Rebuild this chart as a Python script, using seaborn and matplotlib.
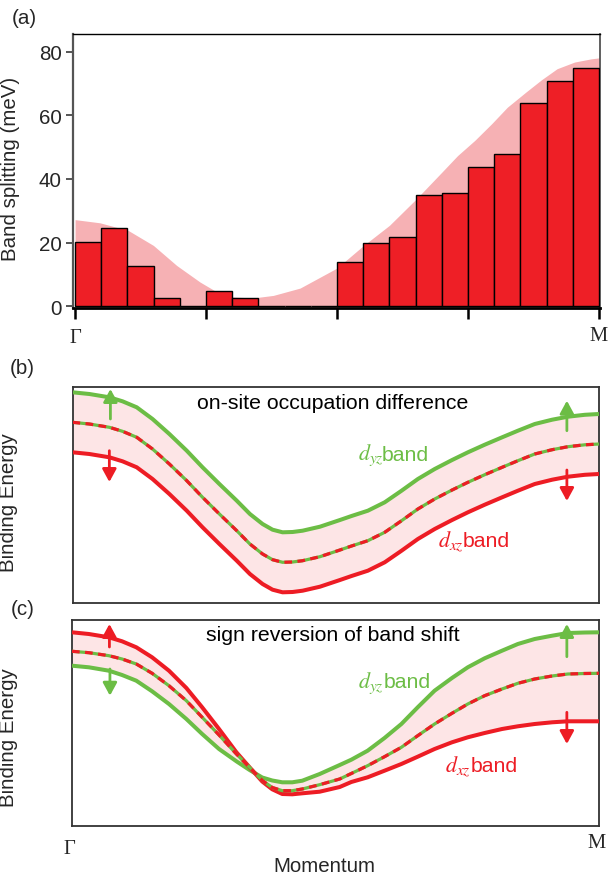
import numpy as np
import pandas as pd
import matplotlib
matplotlib.use("Agg")
import matplotlib.pyplot as plt
import matplotlib.transforms as mtransforms
import seaborn as sns

# ---------------- data ----------------
# (a) measured band splitting in 20 momentum bins between Gamma and M
bin_center = [i + 0.5 for i in range(20)]
splitting_meV = [20.2, 24.5, 12.6, 2.7, 0.0, 4.7, 2.5, 0.0, 0.0, 0.0,
                 13.8, 19.8, 21.8, 34.8, 35.5, 43.7, 47.8, 63.8, 70.8, 74.8]
# calculated envelope (momentum in bin units: 0 = Gamma, 20 = M)
envelope_pos = [0.0, 0.95, 2.03, 2.99, 3.88, 4.77, 5.41, 6.04, 6.8, 7.57, 8.59,
                10.0, 11.0, 12.0, 13.0, 14.0, 14.6, 15.26, 15.9, 16.5, 17.2,
                17.8, 18.4, 19.07, 19.7, 20.0]
envelope_meV = [27.2, 26.2, 23.8, 19.1, 12.8, 7.6, 4.5, 2.9, 2.6, 3.4, 5.7,
                12.0, 19.0, 25.4, 33.5, 42.1, 47.3, 52.1, 57.3, 62.5, 67.2,
                71.1, 74.6, 76.7, 77.7, 78.0]
xtick_bins = [0, 5, 10, 15, 20]
ytick_vals = [0, 20, 40, 60, 80]

# (b),(c) schematic bands; momentum 0 = Gamma, 1 = M; energy in arbitrary units
k = [0.000, 0.032, 0.070, 0.095, 0.122, 0.152, 0.184, 0.217, 0.247, 0.279,
     0.312, 0.337, 0.361, 0.380, 0.399, 0.418, 0.437, 0.470, 0.508, 0.530,
     0.561, 0.593, 0.625, 0.656, 0.688, 0.721, 0.751, 0.783, 0.816, 0.846,
     0.878, 0.911, 0.941, 0.973, 1.000]

dyz_b = [210.7, 209.0, 205.7, 201.7, 195.7, 184.0, 169.0, 152.3, 135.7, 119.0,
         102.3, 89.0, 79.0, 73.3, 70.7, 71.0, 72.3, 76.3, 83.0, 87.0,
         92.3, 100.7, 112.3, 124.0, 134.0, 143.0, 150.7, 158.3, 165.7, 172.3,
         179.0, 183.3, 186.3, 188.2, 189.0]
bare_b = [180.7, 179.0, 175.7, 171.7, 165.7, 154.0, 139.0, 122.3, 105.7, 89.0,
          72.3, 59.0, 49.0, 43.3, 40.7, 41.0, 42.3, 46.3, 53.0, 57.0,
          62.3, 70.7, 82.3, 94.0, 104.0, 113.0, 120.7, 128.3, 135.7, 142.3,
          149.0, 153.3, 156.3, 158.2, 159.0]
dxz_b = [150.7, 149.0, 145.7, 141.7, 135.7, 124.0, 109.0, 92.3, 75.7, 59.0,
         42.3, 29.0, 19.0, 13.3, 10.7, 11.0, 12.3, 16.3, 23.0, 27.0,
         32.3, 40.7, 52.3, 64.0, 74.0, 83.0, 90.7, 98.3, 105.7, 112.3,
         119.0, 123.3, 126.3, 128.2, 129.0]

dyz_c = [160.3, 158.7, 155.3, 151.0, 145.3, 134.7, 122.0, 107.0, 92.0, 77.0,
         64.7, 56.0, 48.5, 45.5, 43.7, 43.7, 45.3, 52.0, 61.0, 66.3,
         75.3, 88.0, 102.0, 118.7, 135.3, 148.0, 158.7, 167.7, 175.3, 182.0,
         187.0, 190.3, 193.0, 193.5, 193.7]
bare_c = [174.7, 173.3, 170.3, 167.0, 162.0, 152.7, 140.3, 125.3, 108.7, 91.0,
          72.0, 58.7, 45.5, 38.5, 35.3, 35.3, 37.0, 41.3, 47.0, 52.5,
          60.3, 69.3, 78.7, 90.3, 102.0, 112.7, 122.0, 130.3, 137.0, 142.7,
          147.0, 150.0, 152.0, 152.5, 152.7]
dxz_c = [193.7, 192.0, 188.7, 184.7, 178.7, 168.7, 155.3, 138.0, 118.7, 97.0,
         73.7, 58.7, 44.5, 36.7, 32.0, 31.7, 32.7, 34.3, 39.0, 44.0,
         48.7, 55.3, 62.0, 69.3, 77.0, 83.7, 88.7, 93.0, 97.0, 99.7,
         102.0, 103.7, 104.7, 104.7, 104.7]

# shift arrows: (momentum, start energy, end energy, band)
arrows_b = [(0.072, 184.0, 214.0, "dyz"), (0.070, 152.3, 121.0, "dxz"),
            (0.939, 172.3, 202.3, "dyz"), (0.939, 133.0, 102.0, "dxz")]
arrows_c = [(0.071, 179.0, 202.0, "dxz"), (0.072, 157.0, 130.3, "dyz"),
            (0.939, 169.3, 202.0, "dyz"), (0.939, 113.7, 82.0, "dxz")]

titles = {"b": "on-site occupation difference", "c": "sign reversion of band shift"}

# ---------------- style ----------------
sns.set_theme(style="white")
plt.rcParams["font.family"] = ["Liberation Sans", "DejaVu Sans"]
plt.rcParams["mathtext.fontset"] = "stix"

GREEN = "#6cbd45"
RED = "#ed1c24"
BAR_RED = "#ee1f26"
ENV_PINK = "#f6b1b4"
FILL_PINK = "#fde5e6"
band_color = {"dyz": GREEN, "dxz": RED}
FS = 14.8
FS_T = 15.3
SERIF = ["Liberation Serif", "DejaVu Serif"]

W, H = 608, 878
fig = plt.figure(figsize=(W / 100, H / 100), dpi=100)


def box(l, t, r, b):
    return [l / W, 1 - b / H, (r - l) / W, (b - t) / H]


# ---------------- (a) ----------------
ax_a = fig.add_axes(box(72.7, 34.7, 600.3, 308.5))
ax_a.fill_between(envelope_pos, -1, envelope_meV, color=ENV_PINK, lw=0, zorder=1)
df_a = pd.DataFrame({"k": bin_center, "split": splitting_meV})
sns.barplot(data=df_a, x="k", y="split", native_scale=True, width=1.0,
            color=BAR_RED, saturation=1, edgecolor="black", linewidth=1.0,
            errorbar=None, ax=ax_a, zorder=3)
ax_a.set_xlim(-0.09, 20.05)
ax_a.set_ylim(-0.4, 85.6)
ax_a.set_xticks(xtick_bins)
ax_a.set_xticklabels([])
ax_a.set_yticks(ytick_vals)
ax_a.set_yticklabels([str(v) for v in ytick_vals], fontsize=FS)
ax_a.set_xlabel("")
ax_a.set_ylabel("Band splitting (meV)", fontsize=FS)
ax_a.yaxis.set_label_coords((19.5 - 72.7) / 527.6, 0.509)
ax_a.tick_params(axis="y", direction="out", length=5, width=1.4, color="#555555",
                 pad=3, left=True)
ax_a.tick_params(axis="x", direction="out", length=8, width=1.8, color="black",
                 bottom=True)
for side, (c, w) in {"left": ("#555555", 1.6), "bottom": ("black", 2.0),
                     "top": ("black", 1.0), "right": ("#444444", 1.2)}.items():
    ax_a.spines[side].set_visible(True)
    ax_a.spines[side].set_color(c)
    ax_a.spines[side].set_linewidth(w)
tr_a = mtransforms.blended_transform_factory(ax_a.transData, ax_a.transAxes)
ax_a.text(xtick_bins[0], -0.111, "Γ", transform=tr_a, ha="center", va="center",
          fontsize=FS, family=SERIF)
ax_a.text(xtick_bins[-1], -0.104, "M", transform=tr_a, ha="center", va="center",
          fontsize=FS, family=SERIF)


# ---------------- (b), (c) ----------------
def band_label(ax, x_d, x_band, y, sub, color):
    ax.text(x_d, y, r"$d_{%s}$" % sub, transform=ax.transAxes, ha="left",
            va="center", fontsize=FS + 1, color=color)
    ax.text(x_band, y, "band", transform=ax.transAxes, ha="left",
            va="center", fontsize=FS_T, color=color)


def band_panel(ax, dyz, bare, dxz, arrows, title, ylim):
    df = pd.DataFrame({"k": k, "dyz": dyz, "bare": bare, "dxz": dxz})
    ax.fill_between(df["k"], df["dyz"], df["dxz"], color=FILL_PINK, lw=0, zorder=1)
    line_kw = dict(estimator=None, sort=False, ax=ax, solid_joinstyle="round",
                   solid_capstyle="butt")
    sns.lineplot(data=df, x="k", y="dyz", color=GREEN, lw=2.9, zorder=3, **line_kw)
    sns.lineplot(data=df, x="k", y="dxz", color=RED, lw=2.9, zorder=3, **line_kw)
    sns.lineplot(data=df, x="k", y="bare", color=GREEN, lw=2.3, zorder=4, **line_kw)
    sns.lineplot(data=df, x="k", y="bare", color=RED, lw=2.3, ax=ax,
                 estimator=None, sort=False, zorder=5,
                 linestyle=(0, (2.4, 1.7)), dash_joinstyle="round")
    for kx, y0, y1, band in arrows:
        ax.annotate("", xy=(kx, y1), xytext=(kx, y0),
                    arrowprops=dict(arrowstyle="-|>,head_length=0.55,head_width=0.3",
                                    color=band_color[band], lw=2.0,
                                    mutation_scale=14, shrinkA=0, shrinkB=0),
                    zorder=6)
    ax.set_xlim(0, 1)
    ax.set_ylim(*ylim)
    ax.set_xticks([])
    ax.set_yticks([])
    ax.set_xlabel("")
    ax.set_ylabel("Binding Energy", fontsize=FS)
    for side in ["left", "right", "top", "bottom"]:
        ax.spines[side].set_visible(True)
        ax.spines[side].set_color("#333333")
        ax.spines[side].set_linewidth(1.3)
    ax.text(0.495, 0.93, title, transform=ax.transAxes, ha="center",
            va="center", fontsize=FS_T, color="black")


ax_b = fig.add_axes(box(72.5, 388.3, 599, 604))
band_panel(ax_b, dyz_b, bare_b, dxz_b, arrows_b, titles["b"], (0, 215.7))
band_label(ax_b, 0.542, 0.588, 0.69, "yz", GREEN)
band_label(ax_b, 0.694, 0.742, 0.289, "xz", RED)
ax_b.yaxis.set_label_coords((18.5 - 72.5) / 526.5, 0.468)

ax_c = fig.add_axes(box(72.0, 621, 599, 827.3))
band_panel(ax_c, dyz_c, bare_c, dxz_c, arrows_c, titles["c"], (-0.3, 206))
band_label(ax_c, 0.542, 0.592, 0.70, "yz", GREEN)
band_label(ax_c, 0.708, 0.757, 0.294, "xz", RED)
ax_c.yaxis.set_label_coords((18.5 - 72) / 527, 0.433)
ax_c.set_xlabel("Momentum", fontsize=FS)
ax_c.xaxis.set_label_coords(0.479, -0.188)
ax_c.xaxis.label.set_va("center")
ax_c.text(-0.004, -0.108, "Γ", transform=ax_c.transAxes, ha="center",
          va="center", fontsize=FS, family=SERIF)
ax_c.text(0.996, -0.078, "M", transform=ax_c.transAxes, ha="center",
          va="center", fontsize=FS, family=SERIF)

# panel letters
for lab, (px, py) in {"(a)": (24, 18), "(b)": (22, 369), "(c)": (23, 610)}.items():
    fig.text(px / W, 1 - py / H, lab, ha="center", va="center", fontsize=FS)

fig.savefig("out.png", dpi=100)
